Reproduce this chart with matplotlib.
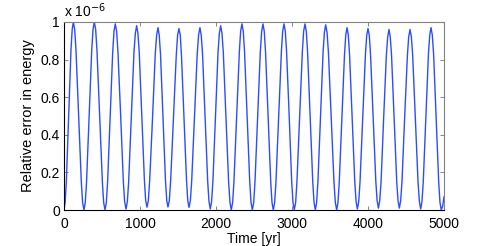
import numpy as np
import matplotlib.pyplot as plt

plt.rcParams["font.family"] = ["Liberation Sans", "DejaVu Sans"]

# --- Data (values in units of 1e-6) ---
# one row per half-cycle: trough/peak plus points along the flank
time_yr = [
    0, 15, 31, 62, 92, 108, 123,
    141, 158, 193, 228, 245, 263,
    280, 297, 331, 365, 382, 399,
    417, 434, 470, 505, 522, 540,
    557, 574, 608, 641, 658, 675,
    693, 710, 746, 781, 798, 816,
    834, 851, 886, 921, 939, 956,
    973, 990, 1024, 1058, 1075, 1092,
    1110, 1128, 1165, 1201, 1219, 1237,
    1253, 1270, 1303, 1335, 1352, 1368,
    1386, 1404, 1441, 1477, 1495, 1513,
    1530, 1546, 1579, 1612, 1629, 1645,
    1663, 1681, 1717, 1753, 1771, 1789,
    1806, 1823, 1857, 1891, 1908, 1925,
    1942, 1959, 1993, 2027, 2044, 2061,
    2079, 2096, 2131, 2166, 2184, 2201,
    2219, 2236, 2272, 2307, 2324, 2342,
    2359, 2376, 2410, 2444, 2461, 2478,
    2496, 2513, 2548, 2583, 2601, 2618,
    2635, 2652, 2686, 2720, 2737, 2754,
    2772, 2789, 2825, 2860, 2877, 2895,
    2912, 2929, 2963, 2996, 3013, 3030,
    3048, 3065, 3101, 3136, 3153, 3171,
    3188, 3205, 3239, 3273, 3290, 3307,
    3324, 3341, 3375, 3409, 3426, 3443,
    3461, 3479, 3516, 3552, 3570, 3588,
    3605, 3622, 3656, 3690, 3707, 3724,
    3741, 3758, 3792, 3826, 3843, 3860,
    3878, 3895, 3930, 3965, 3983, 4000,
    4017, 4034, 4068, 4103, 4120, 4137,
    4154, 4172, 4206, 4241, 4259, 4276,
    4293, 4310, 4344, 4378, 4395, 4412,
    4430, 4447, 4482, 4518, 4535, 4553,
    4571, 4588, 4623, 4658, 4676, 4693,
    4710, 4727, 4761, 4795, 4812, 4829,
    4846, 4863, 4897, 4930, 4947, 4964,
    4982, 5000,
]
rel_error = [
    0.0, 0.04, 0.15, 0.50, 0.85, 0.96, 1.00,
    0.96, 0.85, 0.50, 0.15, 0.04, 0.0,
    0.04, 0.15, 0.50, 0.85, 0.96, 1.00,
    0.96, 0.85, 0.50, 0.15, 0.04, 0.0,
    0.04, 0.15, 0.50, 0.84, 0.95, 0.99,
    0.95, 0.84, 0.50, 0.15, 0.045, 0.005,
    0.045, 0.15, 0.49, 0.84, 0.94, 0.98,
    0.94, 0.84, 0.50, 0.16, 0.05, 0.015,
    0.05, 0.16, 0.49, 0.83, 0.93, 0.97,
    0.93, 0.83, 0.49, 0.16, 0.05, 0.016,
    0.05, 0.16, 0.49, 0.82, 0.93, 0.965,
    0.93, 0.82, 0.49, 0.16, 0.05, 0.014,
    0.05, 0.16, 0.49, 0.83, 0.93, 0.97,
    0.93, 0.83, 0.49, 0.15, 0.045, 0.005,
    0.045, 0.15, 0.49, 0.84, 0.94, 0.98,
    0.94, 0.84, 0.49, 0.15, 0.04, 0.0,
    0.04, 0.15, 0.50, 0.84, 0.95, 0.99,
    0.95, 0.84, 0.50, 0.15, 0.04, 0.0,
    0.04, 0.15, 0.50, 0.84, 0.95, 0.99,
    0.95, 0.84, 0.50, 0.15, 0.04, 0.0,
    0.04, 0.15, 0.50, 0.84, 0.95, 0.99,
    0.95, 0.84, 0.50, 0.15, 0.04, 0.0,
    0.04, 0.15, 0.50, 0.84, 0.95, 0.99,
    0.95, 0.84, 0.50, 0.15, 0.04, 0.0,
    0.04, 0.15, 0.49, 0.84, 0.945, 0.985,
    0.945, 0.84, 0.49, 0.15, 0.04, 0.0,
    0.04, 0.15, 0.49, 0.82, 0.93, 0.97,
    0.93, 0.82, 0.49, 0.15, 0.045, 0.005,
    0.045, 0.15, 0.49, 0.82, 0.93, 0.965,
    0.93, 0.82, 0.49, 0.15, 0.05, 0.01,
    0.05, 0.15, 0.49, 0.82, 0.92, 0.96,
    0.92, 0.82, 0.49, 0.15, 0.05, 0.01,
    0.05, 0.15, 0.49, 0.82, 0.92, 0.96,
    0.92, 0.82, 0.48, 0.15, 0.045, 0.005,
    0.045, 0.15, 0.49, 0.83, 0.93, 0.97,
    0.93, 0.83, 0.49, 0.15, 0.04, 0.0,
    0.02, 0.07,
]
x_ticks = [0, 1000, 2000, 3000, 4000, 5000]
y_ticks = [0, 0.2, 0.4, 0.6, 0.8, 1]
y_tick_labels = ["0", "0.2", "0.4", "0.6", "0.8", "1"]

fig = plt.figure(figsize=(4.91, 2.46), dpi=100)
ax = fig.add_axes([0.1303, 0.1463, 0.774, 0.7643])

ax.plot(time_yr, rel_error, color="#2a4dff", linewidth=1.0)

ax.set_xlim(0, 5000)
ax.set_ylim(0, 1.0)
ax.set_xticks(x_ticks)
ax.set_yticks(y_ticks)
ax.set_yticklabels(y_tick_labels)
ax.tick_params(direction="in", length=3, width=0.6, color="#707070",
               top=True, right=True, labelsize=10)
ax.tick_params(axis="x", pad=5)
ax.tick_params(axis="y", pad=3)

for side in ["top", "right"]:
    ax.spines[side].set_color("#808080")
for side in ["left", "bottom"]:
    ax.spines[side].set_color("black")
for sp in ax.spines.values():
    sp.set_linewidth(0.8)

ax.set_xlabel("Time [yr]", fontsize=10, labelpad=1)
ax.set_ylabel("Relative error in energy", fontsize=10.5, labelpad=4)
ax.text(0, 1.01, r"x 10$^{-6}$", transform=ax.transAxes, fontsize=10,
        ha="left", va="bottom")

fig.savefig("out.png", dpi=100, facecolor="white")
